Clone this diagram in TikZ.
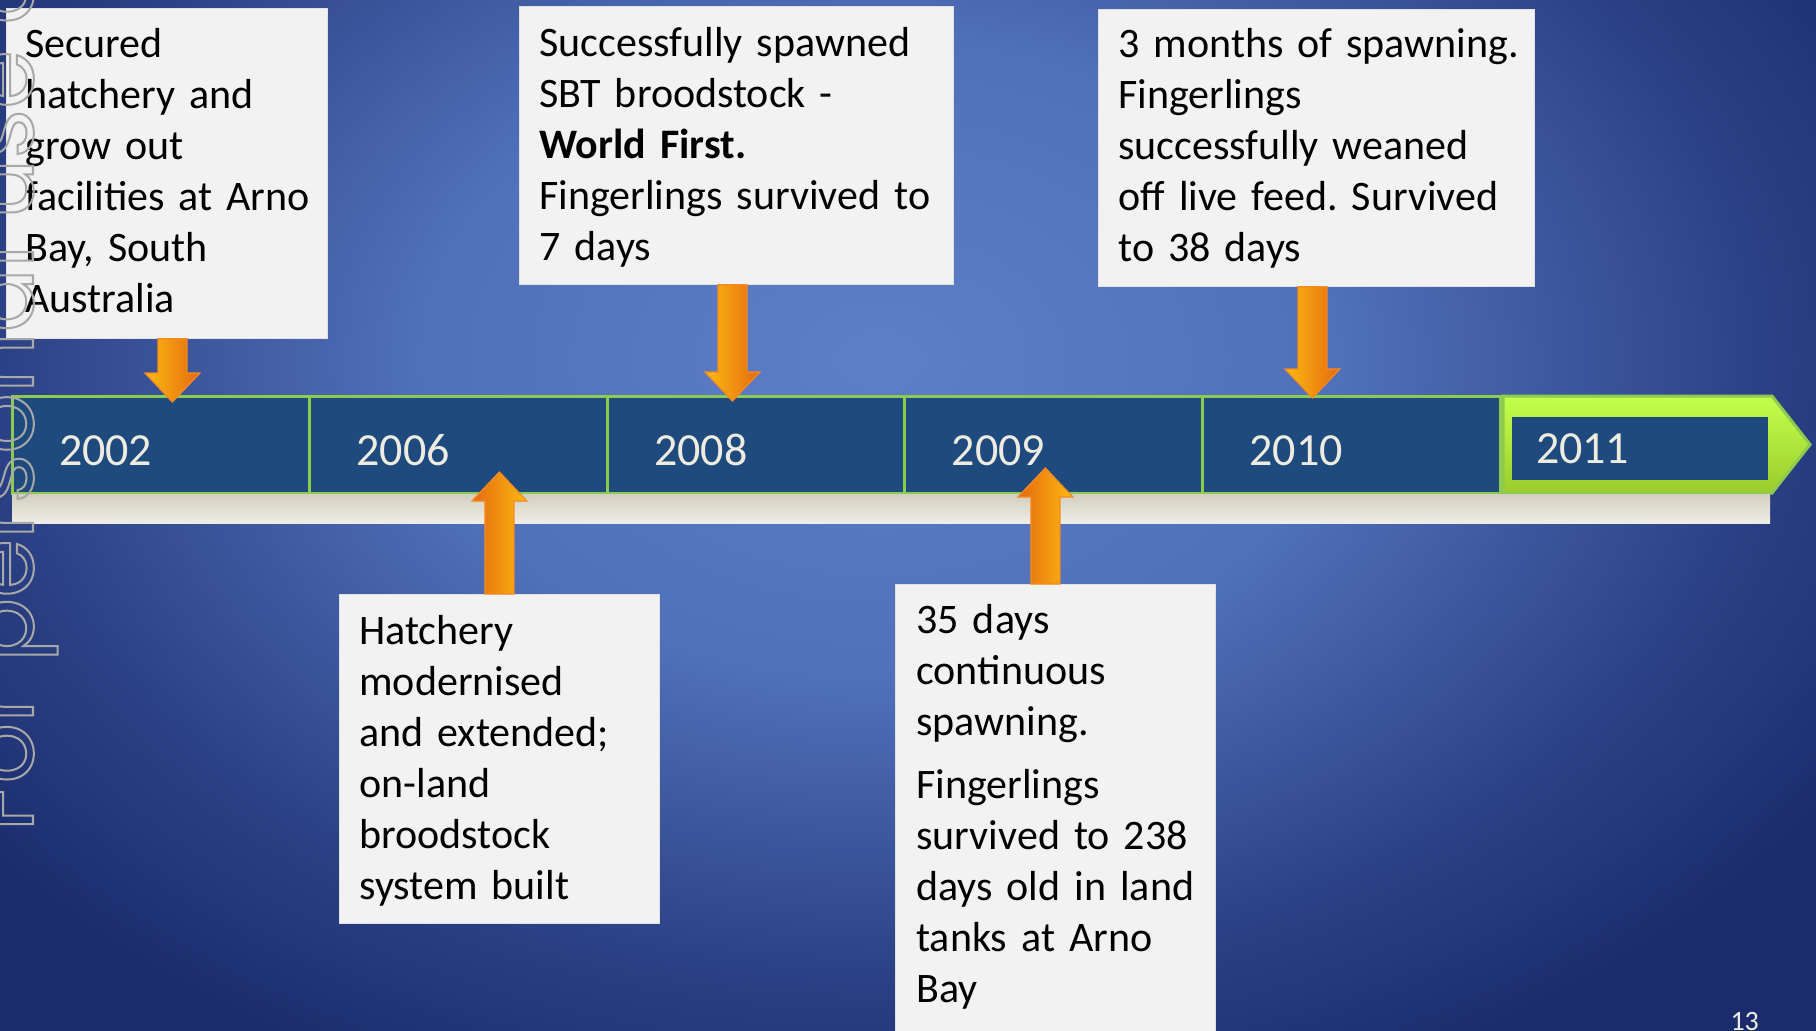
\documentclass[tikz,border=0pt]{standalone}
\usepackage{fontspec}
\setmainfont{Carlito}
\newfontfamily\markfont{Poppins}
\usetikzlibrary{positioning,calc}
\frenchspacing

\definecolor{bgcentre}{HTML}{5E7FC8}
\definecolor{bgmid}{HTML}{5070BA}
\definecolor{bgouter}{HTML}{2C4286}
\definecolor{bgedge}{HTML}{1A2C6C}
\definecolor{segblue}{HTML}{1F4A7D}
\definecolor{seggreen}{HTML}{8CCB4E}
\definecolor{limetop}{HTML}{C4FF4C}
\definecolor{limebottom}{HTML}{9ACC2C}
\definecolor{yeartext}{HTML}{EEECE1}
\definecolor{boxfill}{HTML}{F2F2F2}
\definecolor{arrowlight}{HTML}{FDBA12}
\definecolor{arrowdark}{HTML}{E4690F}
\definecolor{arrowedge}{HTML}{F58A1F}
\definecolor{shelftop}{HTML}{D3CFC1}
\definecolor{shelfbottom}{HTML}{F0EEE6}

\pgfdeclareradialshading{slidebg}{\pgfpoint{0bp}{0bp}}{color(0bp)=(bgcentre); color(10bp)=(bgmid); color(19bp)=(bgouter); color(25bp)=(bgedge); color(50bp)=(bgedge)}

% lines are broken by hand only
\newcommand{\nowrap}{\rightskip=-40pt plus 1fil\relax}

% block arrow: style, start, tip
\newcommand{\flowarrow}[3]{%
  \path (#2) coordinate (fa-s) (#3) coordinate (fa-t);
  \path ($(fa-t)!29pt!(fa-s)$) coordinate (fa-h);
  \draw[#1] ($(fa-s)!14.5pt!90:(fa-t)$) -- ($(fa-h)!14.5pt!90:(fa-t)$) -- ($(fa-h)!27.5pt!90:(fa-t)$) -- (fa-t)
    -- ($(fa-h)!27.5pt!-90:(fa-t)$) -- ($(fa-h)!14.5pt!-90:(fa-t)$) -- ($(fa-s)!14.5pt!-90:(fa-t)$) -- cycle;}

\begin{document}
\begin{tikzpicture}[x=1pt, y=-1pt,
    infobox/.style={fill=boxfill, draw=boxfill!85!gray, line width=0.8pt, anchor=north west, inner ysep=0pt,
      align=left, text=black, font=\fontsize{42}{51}\selectfont},
    yearseg/.style={fill=segblue, draw=seggreen, line width=3pt, inner ysep=0pt, inner xsep=47pt, outer sep=0pt,
      minimum height=97pt, text width=203.6pt, align=left, text height=41pt, text depth=0pt,
      text=yeartext, font=\fontsize{46}{50}\selectfont},
    lastseg/.style={draw=seggreen, line width=3pt, top color=limetop, bottom color=limebottom},
    arrowdown/.style={draw=arrowedge, line width=1.2pt, left color=arrowlight, right color=arrowdark},
    arrowup/.style={draw=arrowedge, line width=1.2pt, left color=arrowdark, right color=arrowlight}]

        % Draw the background
        \useasboundingbox (0,0) rectangle (1816,1031);
        \fill[bgedge] (0,0) rectangle (1816,1031);
        \shade[shading=slidebg] (880,360) ellipse (1150 and 800);

        % Add the milestone boxes
        \node[infobox, inner xsep=19pt, text width=283pt] (boxA) at (6,8)
          {\nowrap\rule{0pt}{49pt}Secured\\ hatchery and\\ grow out\\ facilities at Arno\\ Bay, South\\ Australia\rule[-26pt]{0pt}{26pt}};
        \node[infobox, inner xsep=20pt, text width=394pt] (boxB) at (519,6)
          {\nowrap\rule{0pt}{50pt}Successfully spawned\\ SBT broodstock -\\ \textbf{World First.}\\ Fingerlings survived to\\ 7 days\rule[-24pt]{0pt}{24pt}};
        \node[infobox, inner xsep=20pt, text width=396pt] (boxC) at (1098,9)
          {\nowrap\rule{0pt}{48pt}3 months of spawning.\\ Fingerlings\\ successfully weaned\\ off live feed. Survived\\ to 38 days\rule[-25pt]{0pt}{25pt}};
        \node[infobox, inner xsep=20pt, text width=280pt] (boxD) at (339,594)
          {\nowrap\rule{0pt}{50pt}Hatchery\\ modernised\\ and extended;\\ on-land\\ broodstock\\ system built\rule[-24pt]{0pt}{24pt}};
        \node[infobox, inner xsep=21pt, text width=278pt] (boxE) at (895,584)
          {\nowrap\rule{0pt}{49pt}35 days\\ continuous\\ spawning.\\[12pt] Fingerlings\\ survived to 238\\ days old in land\\ tanks at Arno\\ Bay\rule[-60pt]{0pt}{60pt}};

        % Draw the timeline
        \node[yearseg] (y2002) at (160.8,444.5) {2002};
        \node[yearseg, right=0pt of y2002] (y2006) {2006};
        \node[yearseg, right=0pt of y2006] (y2008) {2008};
        \node[yearseg, right=0pt of y2008] (y2009) {2009};
        \node[yearseg, right=0pt of y2009] (y2010) {2010};
        \draw[lastseg] ([xshift=3pt]y2010.north east) -- ++(269,0) -- ++(38,48.5) -- ++(-38,48.5) -- ++(-269,0) -- cycle;
        \node[yearseg, draw=none, inner xsep=24pt, text width=208pt, minimum height=63pt, text height=30pt,
          right=12pt of y2010, yshift=-3.5pt] (y2011) {2011};
        \shade[top color=shelftop, bottom color=shelfbottom] ([yshift=-1.5pt]y2002.south west) rectangle ++(1758,29);

        % Add arrows
        \flowarrow{arrowdown}{[xshift=5.5pt]boxA.south}{$(boxA.south |- y2002.north)+(5.5,6)$}
        \flowarrow{arrowdown}{[xshift=-4pt]boxB.south}{$(boxB.south |- y2008.north)+(-4,5)$}
        \flowarrow{arrowdown}{[xshift=-4pt]boxC.south}{$(boxC.south |- y2010.north)+(-4,2)$}
        \flowarrow{arrowup}{boxD.north}{$(boxD.north |- y2006.south)+(0,-21)$}
        \flowarrow{arrowup}{[xshift=-10pt]boxE.north}{$(boxE.north |- y2009.south)+(-10,-25)$}

        % Add labels
        \node[anchor=base west, text=yeartext, font=\fontsize{28}{30}\selectfont] (pagenum) at (1727,1030) {13};
        \node[rotate=90, anchor=base west, text=gray!45, font=\markfont\fontsize{95}{100}\selectfont] (mark) at (33,835)
          {\special{pdf:literal direct 1 Tr 2 w 0.66 0.66 0.66 RG}For personal use only};
    \end{tikzpicture}
\end{document}
